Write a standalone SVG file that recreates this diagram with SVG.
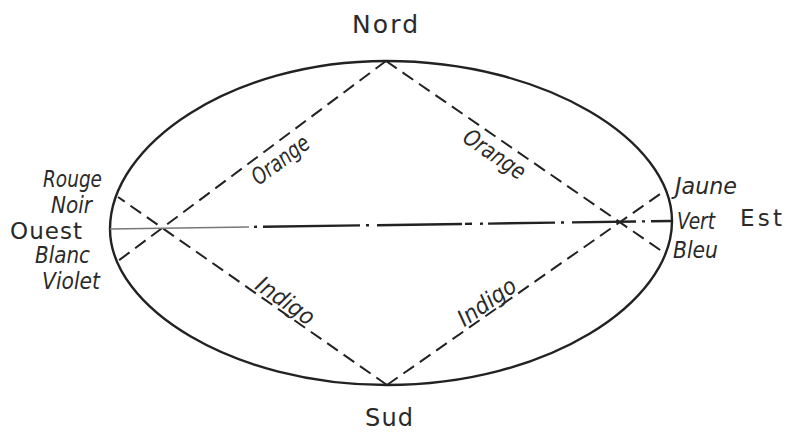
<svg xmlns="http://www.w3.org/2000/svg" width="785" height="432" viewBox="0 0 785 432">
<style>
.outline{fill:none;stroke:#222;stroke-width:2.4}
.dash{fill:none;stroke:#222;stroke-width:2;stroke-dasharray:13 7}
.mid{fill:none;stroke:#222;stroke-width:2.4;stroke-linecap:butt}
.thin{fill:none;stroke:#777;stroke-width:1.6}
.cap{font-family:"DejaVu Sans","Liberation Sans",sans-serif;fill:#2a2a2a}
.lab{font-family:"DejaVu Sans","Liberation Sans",sans-serif;font-style:italic;fill:#2a2a2a;font-size:23px}
</style>
<rect width="785" height="432" fill="#fff"/>
<g id="outline">
<path class="outline" d="M110,229 C110,145 231,61 386,61 C546,61 672,141 672,221 C672,303 547,385 387,385 C232,385 110,307 110,229 Z"/>
</g>
<g id="connectors">
<path class="dash" d="M386,61 L118,261"/>
<path class="dash" d="M387,385 L118,197"/>
<path class="dash" d="M386,61 L663,252"/>
<path class="dash" d="M387,385 L663,192"/>
<path class="thin" d="M110,229 L249,227"/>
<path class="mid" d="M254,226.9 L257,226.8 M263,226.8 L360,225.4 M366,225.3 L369,225.3 M377,225.2 L462,224 M465,223.9 L472,223.8 M480,223.7 L483,223.6 M488,223.6 L555,222.6 M561,222.5 L564,222.5 M572,222.4 L636,221.5 M642,221.4 L645,221.4 M651,221.3 L671,221"/>
</g>
<g id="nord"><text class="cap" x="352" y="33" font-size="25" textLength="66" lengthAdjust="spacing">Nord</text></g>
<g id="sud"><text class="cap" x="365" y="426" font-size="24" textLength="48" lengthAdjust="spacing">Sud</text></g>
<g id="ouest"><text class="cap" x="10" y="239" font-size="23" textLength="72" lengthAdjust="spacing">Ouest</text></g>
<g id="est"><text class="cap" x="740" y="226" font-size="23" textLength="42" lengthAdjust="spacing">Est</text></g>
<g id="west-labels">
<text class="lab" x="43" y="187" textLength="59" lengthAdjust="spacingAndGlyphs">Rouge</text>
<text class="lab" x="51" y="213" textLength="41" lengthAdjust="spacingAndGlyphs">Noir</text>
<text class="lab" x="35" y="263" textLength="55" lengthAdjust="spacingAndGlyphs">Blanc</text>
<text class="lab" x="42" y="289" textLength="58" lengthAdjust="spacingAndGlyphs">Violet</text>
</g>
<g id="east-labels">
<text class="lab" x="675" y="194" textLength="62" lengthAdjust="spacingAndGlyphs">Jaune</text>
<text class="lab" x="677" y="229" textLength="38" lengthAdjust="spacingAndGlyphs">Vert</text>
<text class="lab" x="673" y="258" textLength="45" lengthAdjust="spacingAndGlyphs">Bleu</text>
</g>
<g id="line-labels">
<text class="lab" transform="translate(270.7,147) rotate(-36.7)" x="-33" y="24" textLength="66" lengthAdjust="spacingAndGlyphs">Orange</text>
<text class="lab" transform="translate(503.2,141.7) rotate(34.5)" x="-35" y="23" textLength="70" lengthAdjust="spacingAndGlyphs">Orange</text>
<text class="lab" transform="translate(279.2,309.7) rotate(34.9)" x="-33" y="-3" textLength="66" lengthAdjust="spacingAndGlyphs">Indigo</text>
<text class="lab" transform="translate(493.1,310.8) rotate(-35)" x="-33" y="-3" textLength="66" lengthAdjust="spacingAndGlyphs">Indigo</text>
</g>
</svg>
